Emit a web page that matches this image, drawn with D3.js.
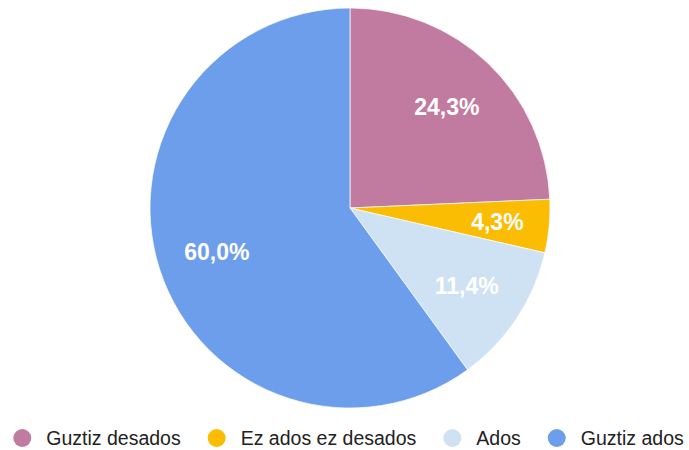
<!DOCTYPE html>
<html>
<head>
<meta charset="utf-8">
<script src="https://cdn.jsdelivr.net/npm/d3@7"></script>
<style>
  html, body { margin: 0; padding: 0; background: #fff; }
  svg { display: block; font-family: "Liberation Sans", Arial, sans-serif; }
</style>
</head>
<body>
<div id="chart"></div>
<script>
const categories = ["Guztiz desados", "Ez ados ez desados", "Ados", "Guztiz ados"]
const values = [24.3, 4.3, 11.4, 60.0]
const colors = ["#c27ba0", "#fbbc04", "#cfe2f3", "#6d9eeb"]

const width = 689
const height = 450
const cx = 350, cy = 208
const outerRadius = 200
const labelRadius = 140

const svg = d3.select("#chart").append("svg")
    .attr("width", width)
    .attr("height", height)

const color = d3.scaleOrdinal().domain(categories).range(colors)
const fmt = v => d3.format(".1f")(v).replace(".", ",") + "%"

const arcs = d3.pie().sort(null).value(i => values[i])(d3.range(values.length))
const arc = d3.arc().innerRadius(0).outerRadius(outerRadius)
// small slices get their label pushed a bit further out
const labelPos = d => {
    const share = values[d.data] / d3.sum(values)
    const rr = share < 0.06 ? 148 : labelRadius
    return d3.arc().innerRadius(rr).outerRadius(rr).centroid(d)
}

const g = svg.append("g").attr("transform", `translate(${cx},${cy})`)

g.selectAll("path")
    .data(arcs)
    .join("path")
    .attr("fill", d => color(categories[d.data]))
    .attr("stroke", "#fff")
    .attr("stroke-width", 0.7)
    .attr("d", arc)

g.selectAll("text")
    .data(arcs)
    .join("text")
    .attr("transform", d => `translate(${labelPos(d)})`)
    .attr("text-anchor", "middle")
    .attr("dy", "0.36em")
    .attr("fill", "#fff")
    .attr("font-weight", "bold")
    .attr("font-size", "23px")
    .text(d => fmt(values[d.data]))

// legend, centred under the pie
const legendY = 438
const r = 9
const legend = svg.append("g")
const items = legend.selectAll("g")
    .data(categories)
    .join("g")

items.append("circle")
    .attr("r", r)
    .attr("cy", legendY)
    .attr("fill", d => color(d))

items.append("text")
    .attr("y", legendY)
    .attr("dy", "0.36em")
    .attr("font-size", "19.5px")
    .attr("fill", "#222")
    .text(d => d)

let x = 0
items.each(function () {
    const it = d3.select(this)
    const tw = it.select("text").node().getComputedTextLength()
    it.select("circle").attr("cx", x + r)
    it.select("text").attr("x", x + r + 24)
    x += r + 24 + tw + 27
})
const total = x - 27
legend.attr("transform", `translate(${348.5 - total / 2},0)`)
</script>
</body>
</html>
